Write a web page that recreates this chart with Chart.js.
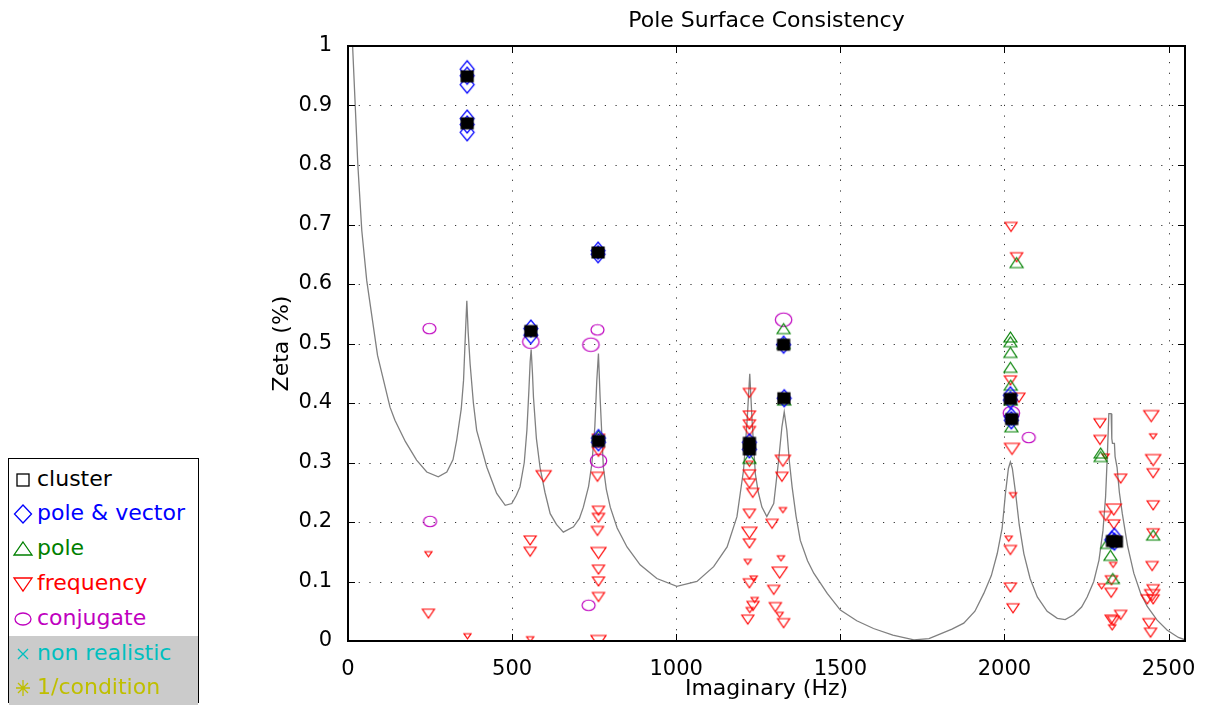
<!DOCTYPE html>
<html>
<head>
<meta charset="utf-8">
<title>Pole Surface Consistency</title>
<script src="https://cdn.jsdelivr.net/npm/chart.js@4.4.1/dist/chart.umd.min.js"></script>
<style>
  html, body { margin: 0; padding: 0; background: #fff; }
  body { width: 1206px; height: 708px; position: relative; overflow: hidden; font-family: "DejaVu Sans", sans-serif; }
  #chart { position: absolute; left: 0; top: 0; }
  #title { position: absolute; left: 348px; width: 837px; top: 7px; text-align: center; font-size: 22px; line-height: 26px; color: #000; }
  #legend { position: absolute; left: 8px; top: 458px; width: 191px; height: 245px; border: 1.5px solid #000; padding-top: 2.6px; box-sizing: border-box; background: #fff; }
  #legend .row { position: relative; height: 34.8px; font-size: 22px; line-height: 34.8px; white-space: nowrap; }
  #legend .row.grey { background: #cbcbcb; }
  #legend .row svg { position: absolute; left: 2px; top: 6px; }
  #legend .row span { position: absolute; left: 28px; top: 0; }
</style>
</head>
<body>
<canvas id="chart" width="1206" height="708"></canvas>
<div id="title">Pole Surface Consistency</div>
<div id="legend">
  <div class="row"><svg width="24" height="24"><rect x="6" y="6" width="12" height="12" fill="none" stroke="#000" stroke-width="1.3"/></svg><span style="color:#000">cluster</span></div>
  <div class="row"><svg width="24" height="24"><polygon points="12,3 20.5,12 12,21 3.5,12" fill="none" stroke="#0000ff" stroke-width="1.3"/></svg><span style="color:#0000ff">pole &amp; vector</span></div>
  <div class="row"><svg width="24" height="24"><polygon points="12,5 21,18 3,18" fill="none" stroke="#008000" stroke-width="1.3"/></svg><span style="color:#008000">pole</span></div>
  <div class="row"><svg width="24" height="24"><polygon points="3,6 21,6 12,19" fill="none" stroke="#ff0000" stroke-width="1.3"/></svg><span style="color:#ff0000">frequency</span></div>
  <div class="row"><svg width="24" height="24"><ellipse cx="12" cy="12" rx="8" ry="6" fill="none" stroke="#bf00bf" stroke-width="1.3"/></svg><span style="color:#bf00bf">conjugate</span></div>
  <div class="row grey"><svg width="24" height="24"><path d="M7,7 L17,17 M17,7 L7,17" stroke="#00bfbf" stroke-width="1.3"/></svg><span style="color:#00bfbf">non realistic</span></div>
  <div class="row grey"><svg width="24" height="24"><path d="M12,4 L12,20 M5,12 L19,12 M7,7 L17,17 M17,7 L7,17" stroke="#bfbf00" stroke-width="1.3"/></svg><span style="color:#bfbf00">1/condition</span></div>
</div>
<script>
// axis ticks
const xTicks = [0, 500, 1000, 1500, 2000, 2500];
const yTicks = [0, 0.1, 0.2, 0.3, 0.4, 0.5, 0.6, 0.7, 0.8, 0.9, 1];

// cluster centres
const clusterX = [363, 363, 557, 762, 763, 1223, 1223, 1327, 1328, 2018, 2022, 2329, 2341];
const clusterY = [0.949, 0.87, 0.521, 0.653, 0.336, 0.333, 0.322, 0.498, 0.408, 0.407, 0.373, 0.168, 0.167];

// pole & vector
const poleVecX = [363, 363, 363, 363, 363, 363, 557, 557, 762, 762, 763, 763, 1223, 1223, 1327, 1329, 2018, 2018, 2021, 2021, 2327, 2335, 2335];
const poleVecY = [0.961, 0.95, 0.935, 0.878, 0.868, 0.855, 0.525, 0.514, 0.656, 0.65, 0.341, 0.334, 0.334, 0.322, 0.498, 0.408, 0.413, 0.405, 0.377, 0.371, 0.17, 0.175, 0.167];

// pole
const poleX = [763, 1223, 1327, 1327, 1329, 2018, 2018, 2018, 2018, 2019, 2019, 2021, 2037, 2293, 2293, 2313, 2323, 2330, 2453];
const poleY = [0.345, 0.307, 0.525, 0.5, 0.405, 0.511, 0.503, 0.485, 0.46, 0.43, 0.405, 0.36, 0.636, 0.316, 0.31, 0.164, 0.144, 0.105, 0.178];

// frequency (normal, large, small markers)
const freqX = [245, 555, 555, 763, 763, 763, 760, 763, 763, 760, 763, 763,
  1223, 1223, 1223, 1223, 1223, 1223, 1233, 1223, 1223, 1223, 1234, 1218,
  1322, 1292, 1297, 1302, 1327,
  2020, 2037, 2018, 2044, 2018, 2018, 2026,
  2291, 2291, 2354, 2308, 2333, 2336, 2326, 2325, 2354, 2325, 2332,
  2453, 2453, 2453, 2450, 2453, 2435, 2440, 2445, 2453];
const freqY = [0.046, 0.169, 0.15, 0.074, 0.1, 0.12, 0.185, 0.207, 0.219, 0.276, 0.318, 0.34,
  0.417, 0.379, 0.364, 0.353, 0.28, 0.265, 0.249, 0.214, 0.164, 0.097, 0.059, 0.036,
  0.276, 0.197, 0.086, 0.057, 0.03,
  0.696, 0.645, 0.438, 0.409, 0.153, 0.09, 0.055,
  0.366, 0.338, 0.273, 0.21, 0.196, 0.168, 0.102, 0.081, 0.044, 0.036, 0.034,
  0.282, 0.228, 0.181, 0.126, 0.087, 0.07, 0.03, 0.014, 0.07];
const freqBigX = [596, 763, 763, 1223, 1325, 1315, 2023, 2333, 2447, 2453, 2450];
const freqBigY = [0.277, 0.0, 0.148, 0.182, 0.303, 0.115, 0.323, 0.221, 0.378, 0.304, 0.077];
const freqSmallX = [245, 364, 555, 1223, 1218, 1236, 1239, 1224, 1325, 1319, 1315, 2026, 2013, 2308, 2331, 2296, 2328, 2453];
const freqSmallY = [0.146, 0.008, 0.003, 0.298, 0.133, 0.105, 0.069, 0.052, 0.22, 0.139, 0.044, 0.245, 0.172, 0.31, 0.128, 0.092, 0.023, 0.344];

// conjugate
const conjX = [248, 250, 733, 760, 2074];
const conjY = [0.525, 0.201, 0.06, 0.523, 0.342];
const conjBigX = [557, 740, 763, 1327, 2021];
const conjBigY = [0.503, 0.498, 0.303, 0.54, 0.383];

// stability curve (grey)
const curveX = [8, 14, 22, 30, 42, 57, 90, 128, 143, 175, 209, 240, 275, 301, 320, 331, 345, 352, 358, 362, 366, 372, 382, 392,
  423, 453, 479, 499, 513, 524, 537, 545, 551, 555, 558, 562, 565, 574, 585, 600, 616, 635, 656, 687, 705, 717, 733, 743,
  752, 758, 763, 766, 768, 773, 778, 787, 799, 820, 850, 890, 941, 1002, 1063, 1114, 1155, 1185, 1205, 1216, 1224, 1231,
  1241, 1250, 1261, 1276, 1297, 1312, 1322, 1329, 1337, 1345, 1353, 1365, 1378, 1400, 1419, 1460, 1500, 1550, 1601, 1660,
  1724, 1770, 1805, 1840, 1876, 1910, 1937, 1960, 1978, 1993, 2003, 2012, 2018, 2024, 2034, 2045, 2059, 2078, 2100, 2130,
  2161, 2185, 2211, 2235, 2252, 2272, 2288, 2300, 2308, 2314, 2318, 2325, 2327, 2329, 2335, 2337, 2343, 2350, 2359, 2375,
  2394, 2415, 2435, 2465, 2496, 2530, 2550];
const curveY = [1.05, 1.0, 0.9, 0.8, 0.69, 0.606, 0.48, 0.393, 0.371, 0.335, 0.304, 0.284, 0.276, 0.284, 0.305, 0.337, 0.39, 0.438, 0.52, 0.572, 0.52, 0.466, 0.4, 0.354,
  0.292, 0.248, 0.228, 0.231, 0.245, 0.259, 0.3, 0.354, 0.42, 0.47, 0.49, 0.45, 0.41, 0.34, 0.292, 0.25, 0.214, 0.196, 0.183, 0.192, 0.206, 0.225, 0.26, 0.298,
  0.36, 0.438, 0.483, 0.44, 0.41, 0.35, 0.292, 0.255, 0.225, 0.19, 0.158, 0.128, 0.105, 0.092, 0.1, 0.125, 0.158, 0.209, 0.287, 0.371, 0.449, 0.371,
  0.281, 0.25, 0.225, 0.209, 0.231, 0.304, 0.36, 0.385, 0.354, 0.3, 0.259, 0.21, 0.169, 0.135, 0.114, 0.08, 0.052, 0.034, 0.021, 0.01,
  0.002, 0.004, 0.012, 0.02, 0.03, 0.05, 0.08, 0.11, 0.147, 0.19, 0.248, 0.29, 0.301, 0.29, 0.248, 0.195, 0.147, 0.105, 0.074, 0.05,
  0.038, 0.036, 0.044, 0.057, 0.074, 0.1, 0.136, 0.185, 0.242, 0.32, 0.382, 0.382, 0.34, 0.332, 0.332, 0.31, 0.292, 0.25, 0.214, 0.16,
  0.114, 0.08, 0.058, 0.035, 0.018, 0.006, 0.002];

function pts(xs, ys) {
    return xs.map((x, i) => ({ x: x, y: ys[i] }));
}

// marker images (the original markers are slightly wider than tall)
function makeMarker(shape, w, h, color, filled) {
    const pad = 2;
    const c = document.createElement('canvas');
    c.width = Math.ceil(w + pad * 2);
    c.height = Math.ceil(h + pad * 2);
    const g = c.getContext('2d');
    g.strokeStyle = color;
    g.fillStyle = color;
    g.lineWidth = 1.2;
    const x0 = (c.width - w) / 2, y0 = (c.height - h) / 2;
    const cx = c.width / 2, cy = c.height / 2;
    g.beginPath();
    if (shape === 'square') {
        g.rect(x0, y0, w, h);
    } else if (shape === 'diamond') {
        g.moveTo(cx, y0); g.lineTo(x0 + w, cy); g.lineTo(cx, y0 + h); g.lineTo(x0, cy); g.closePath();
    } else if (shape === 'up') {
        g.moveTo(cx, y0); g.lineTo(x0 + w, y0 + h); g.lineTo(x0, y0 + h); g.closePath();
    } else if (shape === 'down') {
        g.moveTo(x0, y0); g.lineTo(x0 + w, y0); g.lineTo(cx, y0 + h); g.closePath();
    } else if (shape === 'circle') {
        g.ellipse(cx, cy, w / 2, h / 2, 0, 0, Math.PI * 2);
    }
    if (filled) g.fill();
    g.stroke();
    return c;
}

const markers = {
    cluster: makeMarker('square', 12, 11, '#000', true),
    poleVec: makeMarker('diamond', 14, 17, '#0000ff', false),
    pole: makeMarker('up', 13, 10, '#008000', false),
    freq: makeMarker('down', 12, 9, '#ff0000', false),
    freqBig: makeMarker('down', 15, 11, '#ff0000', false),
    freqSmall: makeMarker('down', 7, 5, '#ff0000', false),
    conj: makeMarker('circle', 13, 10.5, '#bf00bf', false),
    conjBig: makeMarker('circle', 16.5, 13.5, '#bf00bf', false)
};

function markerSet(label, xs, ys, img) {
    return {
        label: label,
        data: pts(xs, ys),
        pointStyle: img,
        pointRadius: 6,
        showLine: false
    };
}

// dotted grid, box and inward ticks like the original figure
const framePlugin = {
    id: 'frame',
    beforeDatasetsDraw(chart) {
        const { ctx, chartArea: a, scales } = chart;
        ctx.save();
        ctx.strokeStyle = 'rgba(0,0,0,0.8)';
        ctx.lineWidth = 1;
        ctx.setLineDash([1.2, 9.5]);
        xTicks.forEach(v => {
            if (v <= 0) return;
            const px = Math.round(scales.x.getPixelForValue(v)) + 0.5;
            ctx.beginPath(); ctx.moveTo(px, a.bottom); ctx.lineTo(px, a.top); ctx.stroke();
        });
        yTicks.forEach(v => {
            if (v <= 0 || v >= 1) return;
            const py = Math.round(scales.y.getPixelForValue(v)) + 0.5;
            ctx.beginPath(); ctx.moveTo(a.left, py); ctx.lineTo(a.right, py); ctx.stroke();
        });
        ctx.restore();
    },
    afterDatasetsDraw(chart) {
        const { ctx, chartArea: a, scales } = chart;
        const len = 7;
        ctx.save();
        ctx.strokeStyle = '#000';
        ctx.lineWidth = 1;
        xTicks.forEach(v => {
            const px = Math.round(scales.x.getPixelForValue(v)) + 0.5;
            ctx.beginPath();
            ctx.moveTo(px, a.bottom); ctx.lineTo(px, a.bottom - len);
            ctx.moveTo(px, a.top); ctx.lineTo(px, a.top + len);
            ctx.stroke();
        });
        yTicks.forEach(v => {
            const py = Math.round(scales.y.getPixelForValue(v)) + 0.5;
            ctx.beginPath();
            ctx.moveTo(a.left, py); ctx.lineTo(a.left + len, py);
            ctx.moveTo(a.right, py); ctx.lineTo(a.right - len, py);
            ctx.stroke();
        });
        ctx.lineWidth = 2;
        ctx.strokeRect(a.left, a.top, a.right - a.left, a.bottom - a.top);
        ctx.restore();
    }
};

Chart.defaults.font.family = '"DejaVu Sans", sans-serif';
Chart.defaults.color = '#000';

new Chart(document.getElementById('chart'), {
    type: 'scatter',
    data: {
        datasets: [
            markerSet('cluster', clusterX, clusterY, markers.cluster),
            markerSet('pole & vector', poleVecX, poleVecY, markers.poleVec),
            markerSet('pole', poleX, poleY, markers.pole),
            markerSet('frequency', freqX, freqY, markers.freq),
            markerSet('frequency', freqBigX, freqBigY, markers.freqBig),
            markerSet('frequency', freqSmallX, freqSmallY, markers.freqSmall),
            markerSet('conjugate', conjX, conjY, markers.conj),
            markerSet('conjugate', conjBigX, conjBigY, markers.conjBig),
            {
                label: 'stability',
                data: pts(curveX, curveY),
                showLine: true,
                borderColor: '#808080',
                borderWidth: 1.3,
                pointRadius: 0,
                tension: 0
            }
        ]
    },
    options: {
        responsive: false,
        animation: false,
        events: [],
        layout: { padding: { left: 265, top: 46, right: 21, bottom: 2 } },
        plugins: {
            legend: { display: false },
            title: { display: false },
            tooltip: { enabled: false }
        },
        scales: {
            x: {
                type: 'linear',
                min: 0,
                max: 2550,
                afterFit(scale) { scale.height = 65; },
                afterBuildTicks(scale) { scale.ticks = xTicks.map(v => ({ value: v })); },
                grid: { display: false },
                border: { display: false },
                ticks: { font: { size: 21 }, padding: 8, maxRotation: 0, autoSkip: false, callback: v => String(v) },
                title: { display: true, text: 'Imaginary (Hz)', font: { size: 22 } }
            },
            y: {
                type: 'linear',
                min: 0,
                max: 1,
                afterFit(scale) { scale.width = 83; },
                afterBuildTicks(scale) { scale.ticks = yTicks.map(v => ({ value: v })); },
                grid: { display: false },
                border: { display: false },
                ticks: { font: { size: 21 }, padding: 8, autoSkip: false, callback: v => String(v) },
                title: { display: true, text: 'Zeta (%)', font: { size: 22 } }
            }
        }
    },
    plugins: [framePlugin]
});
</script>
</body>
</html>
